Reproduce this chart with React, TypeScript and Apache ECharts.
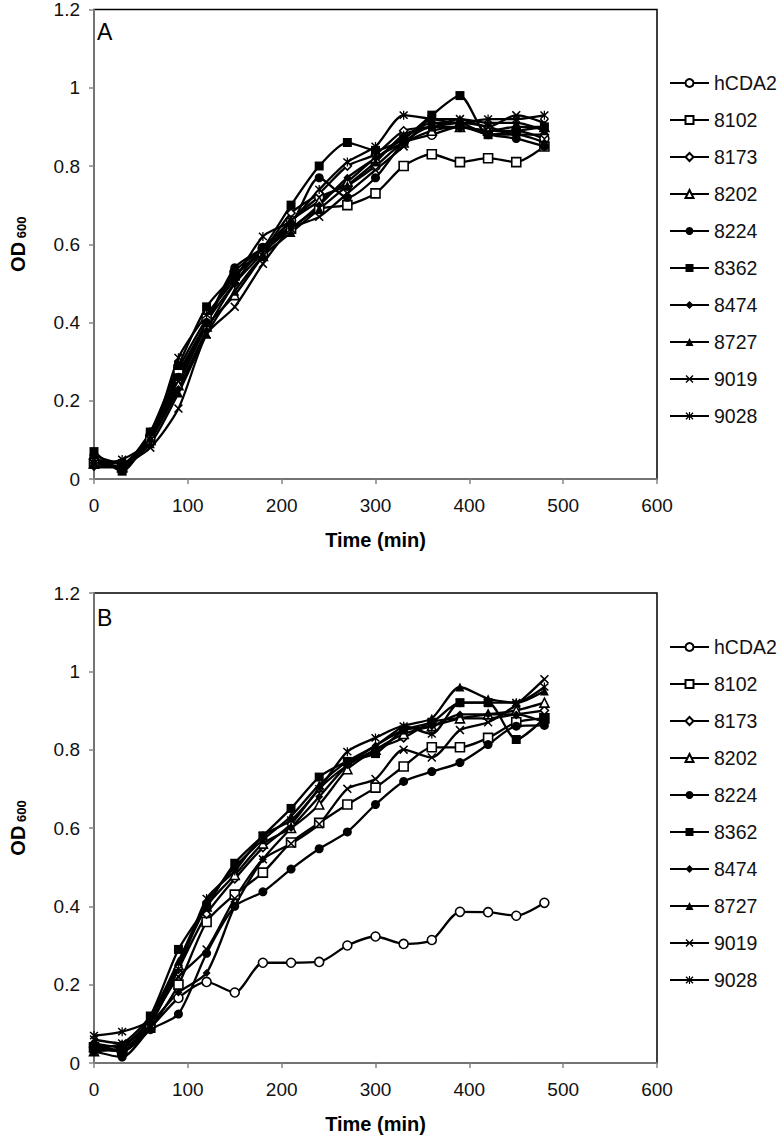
import React, { useEffect, useRef } from "react";
import * as echarts from "echarts";

const times = [0, 30, 60, 90, 120, 150, 180, 210, 240, 270, 300, 330, 360, 390, 420, 450, 480];
const strains = ["hCDA2", "8102", "8173", "8202", "8224", "8362", "8474", "8727", "9019", "9028"];
const xTicks = { min: 0, max: 600, interval: 100 };
const yTicks = { min: 0, max: 1.2, interval: 0.2 };

// Panel A
const a_hCDA2 = [0.05, 0.04, 0.11, 0.27, 0.40, 0.53, 0.59, 0.66, 0.72, 0.75, 0.80, 0.86, 0.88, 0.90, 0.89, 0.89, 0.87];
const a_8102 = [0.04, 0.03, 0.10, 0.28, 0.41, 0.52, 0.58, 0.64, 0.69, 0.70, 0.73, 0.80, 0.83, 0.81, 0.82, 0.81, 0.85];
const a_8173 = [0.05, 0.03, 0.11, 0.25, 0.40, 0.50, 0.58, 0.68, 0.73, 0.80, 0.83, 0.89, 0.90, 0.91, 0.90, 0.88, 0.88];
const a_8202 = [0.04, 0.03, 0.10, 0.24, 0.39, 0.47, 0.57, 0.66, 0.71, 0.76, 0.82, 0.86, 0.89, 0.90, 0.89, 0.90, 0.90];
const a_8224 = [0.06, 0.04, 0.12, 0.26, 0.40, 0.54, 0.59, 0.65, 0.77, 0.72, 0.77, 0.86, 0.90, 0.90, 0.88, 0.87, 0.85];
const a_8362 = [0.07, 0.02, 0.12, 0.29, 0.44, 0.52, 0.59, 0.70, 0.80, 0.86, 0.84, 0.87, 0.93, 0.98, 0.88, 0.89, 0.90];
const a_8474 = [0.03, 0.03, 0.10, 0.23, 0.38, 0.50, 0.59, 0.64, 0.70, 0.77, 0.82, 0.87, 0.91, 0.91, 0.88, 0.88, 0.86];
const a_8727 = [0.04, 0.04, 0.09, 0.22, 0.37, 0.48, 0.57, 0.63, 0.69, 0.75, 0.81, 0.88, 0.90, 0.92, 0.91, 0.91, 0.89];
const a_9019 = [0.05, 0.04, 0.08, 0.18, 0.37, 0.44, 0.55, 0.64, 0.67, 0.73, 0.79, 0.85, 0.92, 0.92, 0.90, 0.93, 0.91];
const a_9028 = [0.04, 0.05, 0.10, 0.31, 0.42, 0.51, 0.62, 0.66, 0.74, 0.81, 0.85, 0.93, 0.92, 0.91, 0.92, 0.92, 0.93];

// Panel B
const b_hCDA2 = [0.04, 0.03, 0.09, 0.166, 0.207, 0.18, 0.256, 0.256, 0.258, 0.30, 0.323, 0.304, 0.314, 0.386, 0.385, 0.376, 0.409];
const b_8102 = [0.04, 0.03, 0.09, 0.20, 0.36, 0.43, 0.486, 0.563, 0.613, 0.66, 0.703, 0.757, 0.806, 0.806, 0.83, 0.87, 0.88];
const b_8173 = [0.05, 0.04, 0.10, 0.24, 0.38, 0.47, 0.55, 0.61, 0.70, 0.76, 0.80, 0.83, 0.87, 0.88, 0.88, 0.89, 0.90];
const b_8202 = [0.03, 0.04, 0.11, 0.25, 0.40, 0.48, 0.56, 0.60, 0.66, 0.75, 0.80, 0.84, 0.86, 0.88, 0.89, 0.90, 0.92];
const b_8224 = [0.03, 0.015, 0.085, 0.125, 0.28, 0.40, 0.437, 0.495, 0.547, 0.59, 0.66, 0.719, 0.744, 0.767, 0.813, 0.86, 0.862];
const b_8362 = [0.04, 0.03, 0.12, 0.29, 0.40, 0.51, 0.58, 0.65, 0.73, 0.77, 0.79, 0.85, 0.87, 0.92, 0.92, 0.826, 0.88];
const b_8474 = [0.05, 0.03, 0.10, 0.18, 0.23, 0.40, 0.52, 0.60, 0.68, 0.76, 0.81, 0.85, 0.86, 0.89, 0.89, 0.89, 0.87];
const b_8727 = [0.04, 0.05, 0.12, 0.26, 0.41, 0.50, 0.57, 0.63, 0.71, 0.77, 0.81, 0.86, 0.88, 0.96, 0.93, 0.92, 0.95];
const b_9019 = [0.06, 0.05, 0.11, 0.22, 0.29, 0.42, 0.52, 0.56, 0.61, 0.70, 0.725, 0.80, 0.78, 0.85, 0.87, 0.915, 0.98];
const b_9028 = [0.07, 0.08, 0.11, 0.24, 0.42, 0.49, 0.58, 0.62, 0.70, 0.795, 0.83, 0.86, 0.84, 0.92, 0.92, 0.92, 0.96];

const panelA = [a_hCDA2, a_8102, a_8173, a_8202, a_8224, a_8362, a_8474, a_8727, a_9019, a_9028];
const panelB = [b_hCDA2, b_8102, b_8173, b_8202, b_8224, b_8362, b_8474, b_8727, b_9019, b_9028];

const X_PATH = "path://M0,1.2 L1.2,0 L5,3.8 L8.8,0 L10,1.2 L6.2,5 L10,8.8 L8.8,10 L5,6.2 L1.2,10 L0,8.8 L3.8,5 Z";
const STAR_PATH =
  "path://M0,1.2 L1.2,0 L5,3.8 L8.8,0 L10,1.2 L6.2,5 L10,8.8 L8.8,10 L5,6.2 L1.2,10 L0,8.8 L3.8,5 Z M4.3,-0.5 L5.7,-0.5 L5.7,10.5 L4.3,10.5 Z";

type Mk = { symbol: string; size: number; open: boolean };
const markers: Mk[] = [
  { symbol: "circle", size: 9, open: true },
  { symbol: "rect", size: 9, open: true },
  { symbol: "diamond", size: 8, open: true },
  { symbol: "triangle", size: 9, open: true },
  { symbol: "circle", size: 9, open: false },
  { symbol: "rect", size: 9, open: false },
  { symbol: "diamond", size: 8, open: false },
  { symbol: "triangle", size: 9, open: false },
  { symbol: X_PATH, size: 9, open: false },
  { symbol: STAR_PATH, size: 9, open: false },
];

const FONT = "Liberation Sans, Arial, sans-serif";

export default function App() {
  const ref = useRef<HTMLDivElement>(null);
  useEffect(() => {
    if (!ref.current) return;
    const chart = echarts.init(ref.current, null, { renderer: "svg" });

    const grids = [
      { left: 86, top: 8, width: 571, height: 471 },
      { left: 86, top: 593, width: 571, height: 470 },
    ];
    const axisCommon = {
      axisLine: { show: true, lineStyle: { color: "#868686", width: 1.5 } },
      axisTick: { show: true, inside: false, length: 5, lineStyle: { color: "#868686", width: 1.5 } },
      splitLine: { show: false },
    };
    const xAxes = grids.map((_, i) => ({
      type: "value",
      gridIndex: i,
      ...xTicks,
      ...axisCommon,
      axisLabel: { fontFamily: FONT, fontSize: 19, color: "#111", margin: 17 },
      name: "Time (min)",
      nameLocation: "middle",
      nameGap: 51,
      nameTextStyle: { fontFamily: FONT, fontSize: 20, fontWeight: "bold", color: "#000" },
    }));
    const yAxes = grids.map((_, i) => ({
      type: "value",
      gridIndex: i,
      ...yTicks,
      ...axisCommon,
      axisLabel: { fontFamily: FONT, fontSize: 19, color: "#111", margin: 14 },
      name: "{a|OD}{b| 600}",
      nameLocation: "middle",
      nameRotate: 90,
      nameGap: 66,
      nameTextStyle: {
        rich: {
          a: { fontFamily: FONT, fontSize: 20, fontWeight: "bold", color: "#000", verticalAlign: "bottom" },
          b: { fontFamily: FONT, fontSize: 13, fontWeight: "bold", color: "#000", verticalAlign: "bottom" },
        },
      },
    }));

    const series: any[] = [];
    [panelA, panelB].forEach((panel, pi) => {
      panel.forEach((vals, si) => {
        const mk = markers[si];
        series.push({
          type: "line",
          name: strains[si],
          xAxisIndex: pi,
          yAxisIndex: pi,
          data: times.map((t, k) => [t, vals[k]]),
          smooth: 0.25,
          symbol: mk.symbol,
          symbolSize: mk.size,
          showAllSymbol: true,
          lineStyle: { color: "#000", width: 2.3 },
          itemStyle: mk.open
            ? { color: "#fff", borderColor: "#000", borderWidth: 1.6 }
            : { color: "#000", borderColor: "#000", borderWidth: 0 },
          emphasis: { disabled: true },
        });
      });
    });

    const legendCommon = {
      orient: "vertical",
      left: 664,
      itemWidth: 39,
      itemHeight: 10,
      itemGap: 17,
      selectedMode: false,
      data: strains,
      textStyle: { fontFamily: FONT, fontSize: 19.5, color: "#111", lineHeight: 20 },
    };

    chart.setOption({
      animation: false,
      backgroundColor: "#fff",
      grid: grids.map((g) => ({ ...g, show: true, borderColor: "#000", borderWidth: 1.5, backgroundColor: "transparent" })),
      xAxis: xAxes,
      yAxis: yAxes,
      legend: [
        { ...legendCommon, top: 68 },
        { ...legendCommon, top: 632 },
      ],
      graphic: [
        { type: "text", left: 97, top: 20, style: { text: "A", fontFamily: FONT, fontSize: 23, fill: "#000" } },
        { type: "text", left: 97, top: 606, style: { text: "B", fontFamily: FONT, fontSize: 23, fill: "#000" } },
      ],
      series,
    });
    return () => chart.dispose();
  }, []);

  return (
    <div
      ref={ref}
      style={{ position: "absolute", left: 0, top: 0, width: 780, height: 1138, background: "#fff" }}
    />
  );
}
